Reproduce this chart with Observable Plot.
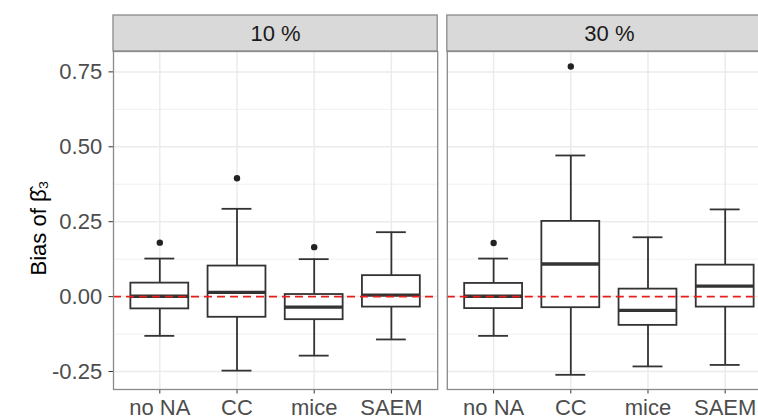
<!DOCTYPE html>
<html>
<head>
<meta charset="utf-8">
<script src="https://cdn.jsdelivr.net/npm/d3@7"></script>
<script src="https://cdn.jsdelivr.net/npm/@observablehq/plot@0.6"></script>
<style>
  html, body { margin: 0; padding: 0; background: #ffffff; overflow: hidden; }
  #chart { width: 758px; height: 416px; overflow: hidden; }
  #chart svg { max-width: none !important; }
  #chart g[aria-label^="x-axis"] text, #chart g[aria-label^="y-axis"] text { fill: #4D4D4D; }
</style>
</head>
<body>
<div id="chart"></div>
<script>
// ---- data ----
const methods = ["no NA", "CC", "mice", "SAEM"];
const rates = ["10 %", "30 %"];

// 10 % missing
const lower10  = [-0.131, -0.247, -0.197, -0.143];
const q1_10    = [-0.041, -0.069, -0.077, -0.035];
const median10 = [ 0.001,  0.014, -0.035,  0.005];
const q3_10    = [ 0.045,  0.102,  0.007,  0.070];
const upper10  = [ 0.127,  0.293,  0.125,  0.215];
const outlier10 = [0.180, 0.395, 0.165, NaN];

// 30 % missing
const lower30  = [-0.131, -0.261, -0.233, -0.228];
const q1_30    = [-0.040, -0.037, -0.096, -0.035];
const median30 = [ 0.001,  0.109, -0.046,  0.035];
const q3_30    = [ 0.044,  0.251,  0.025,  0.105];
const upper30  = [ 0.127,  0.471,  0.198,  0.291];
const outlier30 = [0.179, 0.768, NaN, NaN];

const yTicks = [-0.25, 0, 0.25, 0.5, 0.75];
const yMinor = [-0.125, 0.125, 0.375, 0.625];
const yTitle = "Bias of \u03B2\u0302\u2083";

// ---- table built from the arrays ----
const stats = {
  "10 %": [lower10, q1_10, median10, q3_10, upper10, outlier10],
  "30 %": [lower30, q1_30, median30, q3_30, upper30, outlier30]
};
const rows = rates.flatMap(rate => methods.map((method, i) => {
  const [lo, q1, md, q3, hi, out] = stats[rate];
  return {rate, method, lower: lo[i], q1: q1[i], median: md[i], q3: q3[i], upper: hi[i], outlier: out[i]};
}));

// strip background drawn in every facet
function strip(index, scales, values, dimensions) {
  const {marginLeft, marginRight, marginTop, width} = dimensions;
  const r = document.createElementNS("http://www.w3.org/2000/svg", "rect");
  r.setAttribute("x", marginLeft);
  r.setAttribute("y", marginTop - 36);
  r.setAttribute("width", width - marginLeft - marginRight);
  r.setAttribute("height", 36);
  r.setAttribute("fill", "#D9D9D9");
  r.setAttribute("stroke", "#8a8a8a");
  r.setAttribute("stroke-width", 1.3);
  return r;
}

const boxStroke = "#333333";

const chart = Plot.plot({
  width: 777,
  height: 416,
  marginLeft: 113,
  marginRight: 6,
  marginTop: 51,
  marginBottom: 27,
  style: {
    fontFamily: "'Liberation Sans', Arial, Helvetica, sans-serif",
    fontSize: "22px",
    color: "#333333",
    background: "#ffffff",
    overflow: "visible",
    maxWidth: "none"
  },
  facet: {data: rows, x: "rate", marginTop: 0, marginRight: 0, marginBottom: 0, marginLeft: 0, label: null},
  fx: {domain: rates, paddingInner: 0.0288, paddingOuter: 0, axis: null, round: false, label: null},
  x: {
    type: "band", domain: methods, paddingInner: 0.25, paddingOuter: 0.225, round: false,
    label: null, tickSize: 4.5, tickPadding: 5.5
  },
  y: {
    domain: [-0.31, 0.818], ticks: yTicks, tickFormat: d => d.toFixed(2),
    label: null, tickSize: 4.5, tickPadding: 6.8
  },
  marks: [
    Plot.ruleY(yMinor, {stroke: "#EBEBEB", strokeWidth: 0.8}),
    Plot.ruleY(yTicks, {stroke: "#EBEBEB", strokeWidth: 1.5}),
    Plot.ruleX(methods, {x: d => d, stroke: "#EBEBEB", strokeWidth: 1.5}),
    strip,
    Plot.ruleX(rows, {x: "method", y1: "q3", y2: "upper", stroke: boxStroke, strokeWidth: 1.8}),
    Plot.ruleX(rows, {x: "method", y1: "q1", y2: "lower", stroke: boxStroke, strokeWidth: 1.8}),
    Plot.tickY(rows, {x: "method", y: "upper", stroke: boxStroke, strokeWidth: 1.8, insetLeft: 14, insetRight: 14}),
    Plot.tickY(rows, {x: "method", y: "lower", stroke: boxStroke, strokeWidth: 1.8, insetLeft: 14, insetRight: 14}),
    Plot.barY(rows, {x: "method", y1: "q1", y2: "q3", fill: "#ffffff", stroke: boxStroke, strokeWidth: 1.8}),
    Plot.tickY(rows, {x: "method", y: "median", stroke: boxStroke, strokeWidth: 3.4}),
    Plot.dot(rows, {x: "method", y: "outlier", r: 3.2, fill: "#222222", stroke: "none"}),
    Plot.ruleY([0], {stroke: "#E3201E", strokeWidth: 1.6, strokeDasharray: "8,5"}),
    Plot.frame({stroke: "#8a8a8a", strokeWidth: 1.3}),
    Plot.text(rows, {
      filter: d => d.method === methods[0],
      text: "rate", frameAnchor: "top", dy: -18, fontSize: 22, fill: "#1A1A1A", lineAnchor: "middle"
    }),
    Plot.text(rows, {
      filter: d => d.rate === rates[0] && d.method === methods[0],
      text: () => yTitle, frameAnchor: "left", textAnchor: "middle", rotate: -90, dx: -75, dy: 7.5,
      fontSize: 22, fill: "#000000", lineAnchor: "middle"
    })
  ]
});

document.getElementById("chart").appendChild(chart);
</script>
</body>
</html>
